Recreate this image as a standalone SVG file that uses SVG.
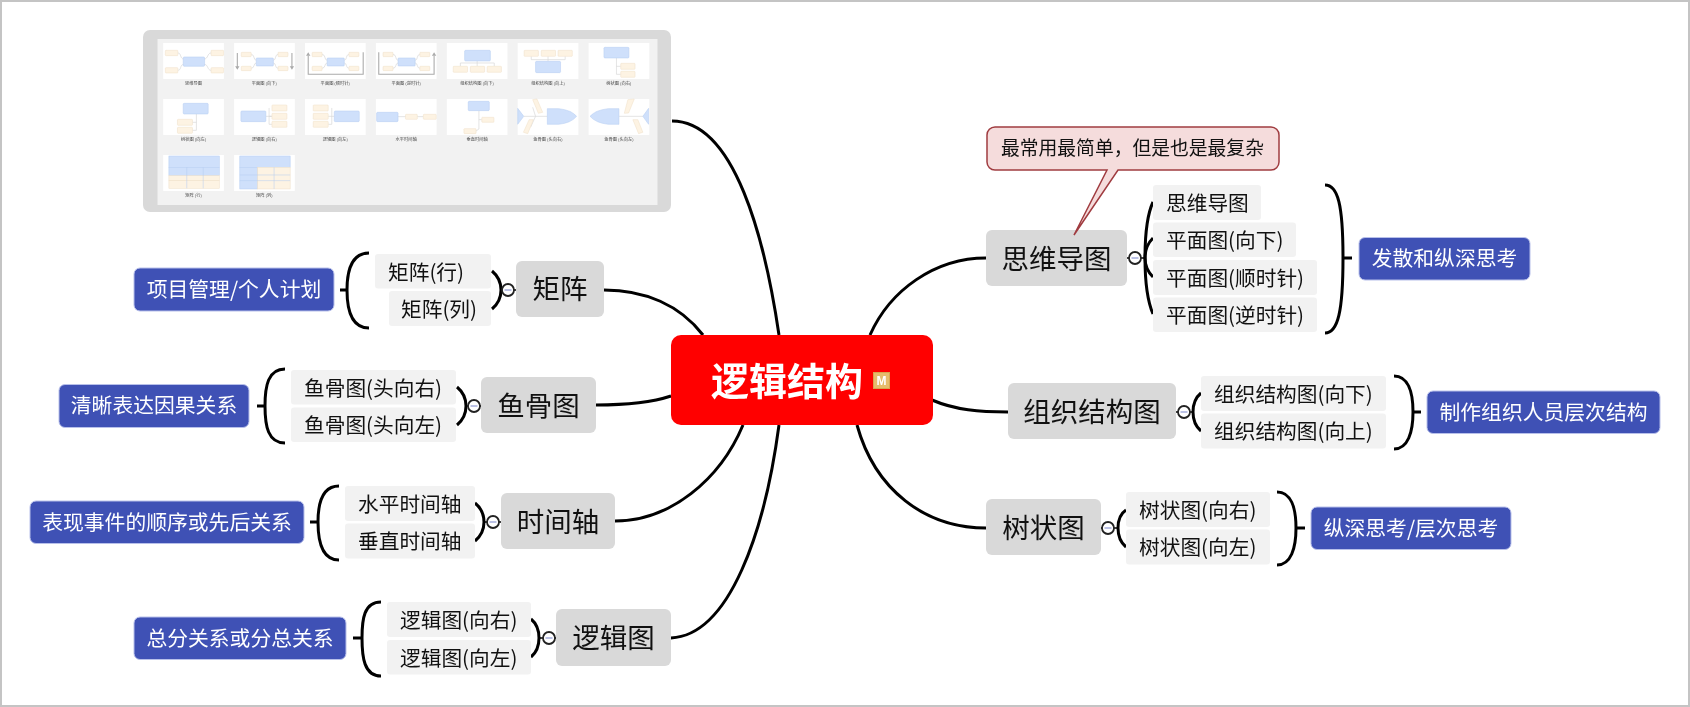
<svg xmlns="http://www.w3.org/2000/svg" xmlns:xlink="http://www.w3.org/1999/xlink" width="1690" height="707" viewBox="0 0 1690 707">
<style>
text{font-family:"Noto Sans CJK SC","Liberation Sans",sans-serif}
.m rect{fill:#d9d9d9}
.m text{font-size:27.500px;fill:#111;text-anchor:middle}
.s rect{fill:#f2f2f2}
.s text{font-size:20.700px;fill:#111}
.n rect{fill:#3f51b5;stroke:#b8c0ea;stroke-width:1}
.n text{font-size:20.800px;fill:#fff;text-anchor:middle}
.c{fill:none;stroke:#000;stroke-width:3;stroke-linecap:butt}
.b{fill:none;stroke:#000;stroke-width:3}
.t{fill:#fff;stroke:#222;stroke-width:1.8}
.d{stroke:#a4acdc;stroke-width:1.5}
.stub{stroke:#000;stroke-width:1.5}
.bl{fill:#cfe0fb;stroke:#b5cdf2;stroke-width:1.5}
.cr{fill:#fdf3e3;stroke:#efdfc8;stroke-width:1.5}
.ln{fill:none;stroke:#d8d8d8;stroke-width:2}
.ar{fill:none;stroke:#aaa;stroke-width:3}
.af{fill:#aaa}
.tile{fill:#fff}
.tl{font-size:12px;fill:#444;text-anchor:middle}
</style>
<defs>
<filter id="soft" x="-2%" y="-2%" width="104%" height="104%"><feGaussianBlur stdDeviation="0.35"/></filter>
<g id="rect4"><rect class="tile" width="170" height="108"/></g>
</defs>
<rect x="1" y="1" width="1688" height="705" fill="#fff" stroke="#c4c4c4" stroke-width="2"/>

<g id="connectors">
<path class="c" d="M672,121C735,121 765,240 779,335"/>
<path class="c" d="M604,290C645,290 680,305 703,335"/>
<path class="c" d="M596,405C625,405 650,403 671,396"/>
<path class="c" d="M615,521C670,521 720,480 743,425"/>
<path class="c" d="M671,638C730,635 765,530 779,425"/>
<path class="c" d="M870,335C890,290 935,258 986,258"/>
<path class="c" d="M932,400C955,410 980,412 1008,412"/>
<path class="c" d="M857,425C875,490 925,528 986,528"/>
<!-- matrix -->
<path class="b" d="M369,253C352,253 347,270 347,290C347,310 352,328 369,328M340,290H347"/>
<path class="b" d="M492,271C498,276 501,282 501,290C501,298 498,304 492,309"/>
<!-- fishbone -->
<path class="b" d="M285,369C268,369 265,386 265,406C265,426 268,443 285,443M257,406H265"/>
<path class="b" d="M457,387C463,392 466,398 466,406C466,414 463,420 457,425"/>
<!-- timeline -->
<path class="b" d="M339,486C322,486 318,503 318,522C318,541 322,560 339,560M310,522H318"/>
<path class="b" d="M475,503C481,508 484,514 484,522C484,530 481,536 475,541"/>
<!-- logic -->
<path class="b" d="M381,602C364,602 362,619 362,638C362,657 364,676 381,676M353,638H362"/>
<path class="b" d="M531,619C537,624 539,630 539,638C539,646 537,652 531,657"/>
<!-- mind -->
<path class="b" d="M1153,202C1147,215 1145,235 1145,258C1145,281 1147,300 1153,314"/>
<path class="b" d="M1153,238C1148,243 1145,250 1145,258C1145,266 1148,272 1153,277"/>
<path class="b" d="M1325,185C1338,185 1343,205 1343,258C1343,311 1338,333 1325,333M1343,258H1352"/>
<!-- org -->
<path class="b" d="M1201,393C1195,398 1193,404 1193,412C1193,420 1195,426 1201,431"/>
<path class="b" d="M1394,376C1408,376 1413,392 1413,412C1413,432 1408,449 1394,449M1413,412H1421"/>
<!-- tree -->
<path class="b" d="M1126,510C1120,514 1118,520 1118,528C1118,536 1120,542 1126,547"/>
<path class="b" d="M1277,492C1291,492 1296,508 1296,528C1296,548 1291,565 1277,565M1296,528H1305"/>
</g>

<g id="image-panel">
<rect x="143" y="30" width="528" height="182" rx="7" fill="#d9d9d9"/>
<rect x="157.500" y="39" width="500" height="166" fill="#f2f2f2"/>
<g filter="url(#soft)">
<g transform="translate(163.200 43) scale(.357 .333)"><use href="#rect4"/><path class="ln" d="M41,30C52,30 46,48 58,48M134,30C123,30 127,48 114,48M41,82C52,82 46,64 58,64M134,82C123,82 127,64 114,64"/><rect class="bl" x="56" y="42" width="60" height="28" rx="3"/><rect class="cr" x="6" y="22" width="35" height="16" rx="2"/><rect class="cr" x="134" y="22" width="35" height="16" rx="2"/><rect class="cr" x="6" y="74" width="35" height="16" rx="2"/><rect class="cr" x="134" y="74" width="35" height="16" rx="2"/><text class="tl" x="85" y="126">思维导图</text></g>
<g transform="translate(234.100 43) scale(.357 .333)"><use href="#rect4"/><path class="ln" d="M48,34C58,34 54,52 62,52M123,34C114,34 118,52 110,52M48,76C58,76 54,60 62,60M123,76C114,76 118,60 110,60"/><rect class="bl" x="62" y="45" width="48" height="24" rx="2"/><rect class="cr" x="20" y="28" width="28" height="13" rx="2"/><rect class="cr" x="123" y="28" width="28" height="13" rx="2"/><rect class="cr" x="20" y="70" width="28" height="13" rx="2"/><rect class="cr" x="123" y="70" width="28" height="13" rx="2"/><path class="ar" d="M9,30V72M162,30V72"/><path class="af" d="M3,70H15L9,80ZM156,70H168L162,80Z"/><text class="tl" x="85" y="126">平面图 (向下)</text></g>
<g transform="translate(305 43) scale(.357 .333)"><use href="#rect4"/><path class="ln" d="M48,34C58,34 54,52 62,52M123,34C114,34 118,52 110,52M48,76C58,76 54,60 62,60M123,76C114,76 118,60 110,60"/><rect class="bl" x="62" y="45" width="48" height="24" rx="2"/><rect class="cr" x="20" y="28" width="28" height="13" rx="2"/><rect class="cr" x="123" y="28" width="28" height="13" rx="2"/><rect class="cr" x="20" y="70" width="28" height="13" rx="2"/><rect class="cr" x="123" y="70" width="28" height="13" rx="2"/><path class="ar" d="M9,38V94H163V28"/><path class="af" d="M3,38H15L9,28Z"/><text class="tl" x="85" y="126">平面图 (顺时针)</text></g>
<g transform="translate(375.900 43) scale(.357 .333)"><use href="#rect4"/><path class="ln" d="M48,34C58,34 54,52 62,52M123,34C114,34 118,52 110,52M48,76C58,76 54,60 62,60M123,76C114,76 118,60 110,60"/><rect class="bl" x="62" y="45" width="48" height="24" rx="2"/><rect class="cr" x="20" y="28" width="28" height="13" rx="2"/><rect class="cr" x="123" y="28" width="28" height="13" rx="2"/><rect class="cr" x="20" y="70" width="28" height="13" rx="2"/><rect class="cr" x="123" y="70" width="28" height="13" rx="2"/><path class="ar" d="M8,28V94H163V38"/><path class="af" d="M157,38H169L163,28Z"/><text class="tl" x="85" y="126">平面图 (逆时针)</text></g>
<g transform="translate(446.800 43) scale(.357 .333)"><use href="#rect4"/><path class="ln" d="M85,54V70M38,70V60H133V70"/><rect class="bl" x="50" y="22" width="72" height="32" rx="3"/><rect class="cr" x="18" y="70" width="40" height="18" rx="2"/><rect class="cr" x="66" y="70" width="40" height="18" rx="2"/><rect class="cr" x="113" y="70" width="40" height="18" rx="2"/><text class="tl" x="85" y="126">组织结构图 (向下)</text></g>
<g transform="translate(517.700 43) scale(.357 .333)"><use href="#rect4"/><path class="ln" d="M85,40V55M38,40V50H133V40"/><rect class="cr" x="18" y="22" width="40" height="18" rx="2"/><rect class="cr" x="66" y="22" width="40" height="18" rx="2"/><rect class="cr" x="113" y="22" width="40" height="18" rx="2"/><rect class="bl" x="50" y="55" width="70" height="34" rx="3"/><text class="tl" x="85" y="126">组织结构图 (向上)</text></g>
<g transform="translate(588.600 43) scale(.357 .333)"><use href="#rect4"/><path class="ln" d="M78,45V94H90M78,70H90"/><rect class="bl" x="43" y="13" width="70" height="32" rx="3"/><rect class="cr" x="90" y="61" width="40" height="18" rx="2"/><rect class="cr" x="90" y="85" width="40" height="18" rx="2"/><text class="tl" x="85" y="126">树状图 (向右)</text></g>

<g transform="translate(163.200 99) scale(.357 .333)"><use href="#rect4"/><path class="ln" d="M93,45V94H82M93,70H82"/><rect class="bl" x="56" y="13" width="70" height="32" rx="3"/><rect class="cr" x="40" y="61" width="42" height="18" rx="2"/><rect class="cr" x="40" y="85" width="42" height="18" rx="2"/><text class="tl" x="85" y="126">树状图 (向左)</text></g>
<g transform="translate(234.100 99) scale(.357 .333)"><use href="#rect4"/><path class="ln" d="M89,52H106M98,27V76H106M98,52H106"/><rect class="bl" x="19" y="36" width="70" height="32" rx="3"/><rect class="cr" x="106" y="18" width="42" height="18" rx="2"/><rect class="cr" x="106" y="43" width="42" height="18" rx="2"/><rect class="cr" x="106" y="67" width="42" height="18" rx="2"/><text class="tl" x="85" y="126">逻辑图 (向右)</text></g>
<g transform="translate(305 99) scale(.357 .333)"><use href="#rect4"/><path class="ln" d="M82,52H65M75,27V76H65"/><rect class="cr" x="23" y="18" width="42" height="18" rx="2"/><rect class="cr" x="23" y="43" width="42" height="18" rx="2"/><rect class="cr" x="23" y="67" width="42" height="18" rx="2"/><rect class="bl" x="82" y="36" width="70" height="32" rx="3"/><text class="tl" x="85" y="126">逻辑图 (向左)</text></g>
<g transform="translate(375.900 99) scale(.357 .333)"><use href="#rect4"/><path class="ln" d="M62,53H133"/><rect class="bl" x="2" y="40" width="60" height="28" rx="3"/><rect class="cr" x="83" y="46" width="33" height="15" rx="2"/><rect class="cr" x="133" y="46" width="36" height="15" rx="2"/><text class="tl" x="85" y="126">水平时间轴</text></g>
<g transform="translate(446.800 99) scale(.357 .333)"><use href="#rect4"/><path class="ln" d="M90,35V90L82,96M90,62H98"/><rect class="bl" x="60" y="7" width="59" height="28" rx="3"/><rect class="cr" x="98" y="55" width="34" height="15" rx="2"/><rect class="cr" x="48" y="89" width="34" height="15" rx="2"/><text class="tl" x="85" y="126">垂直时间轴</text></g>
<g transform="translate(517.700 99) scale(.357 .333)"><use href="#rect4"/><path class="ln" d="M17,52H83M50,52L42,25M50,52L36,85"/><path class="cr" d="M42,2L54,0L70,40L58,43ZM32,62L44,62L28,104L16,100Z"/><path class="bl" d="M83,29H115Q150,33 165,52Q150,72 115,76H83Z"/><path class="bl" d="M0,28L17,52L0,76Z"/><text class="tl" x="85" y="126">鱼骨图 (头向右)</text></g>
<g transform="translate(588.600 99) scale(.357 .333)"><use href="#rect4"/><path class="ln" d="M85,52H152"/><path class="cr" d="M110,2L128,0L112,42L100,43ZM124,62L138,62L152,100L140,104Z"/><path class="bl" d="M85,29H55Q20,33 4,52Q20,72 55,76H85Z"/><path class="bl" d="M168,28L152,52L168,76Z"/><text class="tl" x="85" y="126">鱼骨图 (头向左)</text></g>

<g transform="translate(163.200 155) scale(.357 .333)"><use href="#rect4"/><rect class="bl" x="16" y="3" width="141" height="34"/><rect class="bl" x="16" y="37" width="141" height="25"/><rect class="cr" x="16" y="62" width="141" height="15"/><rect class="cr" x="16" y="77" width="141" height="23"/><path d="M66,37V100M112,37V100" stroke="#b5cdf2" stroke-width="1.5"/><text class="tl" x="85" y="126">矩阵 (行)</text></g>
<g transform="translate(234.100 155) scale(.357 .333)"><use href="#rect4"/><rect class="bl" x="16" y="3" width="141" height="34"/><rect class="bl" x="16" y="37" width="50" height="65"/><rect class="cr" x="66" y="37" width="91" height="65"/><path d="M16,60H157M16,77H157M112,37V102" stroke="#b5cdf2" stroke-width="1.5"/><text class="tl" x="85" y="126">矩阵 (列)</text></g>
</g>
</g>

<g id="center">
<rect x="671" y="335" width="262" height="90" rx="10" fill="#f00"/>
<text x="787" y="395" font-size="38" font-weight="700" fill="#fff" text-anchor="middle">逻辑结构</text>
<rect x="873.500" y="372.500" width="16" height="16" fill="#e6bc6c" stroke="#d8a550"/>
<text x="881.500" y="385" font-size="12" font-weight="700" fill="#fff" text-anchor="middle" style="font-family:'Liberation Sans',sans-serif">M</text>
</g>

<g id="matrix"><g class="m"><rect x="516" y="261" width="88" height="56" rx="6"/><text x="560" y="299">矩阵</text></g></g>
<g id="matrix-toggle"><line class="stub" x1="501" y1="290" x2="516" y2="290"/><circle class="t" cx="508" cy="290" r="6"/><line class="d" x1="504.500" y1="290" x2="511.500" y2="290"/></g>
<g id="matrix-rows" class="s"><rect x="375" y="254" width="116" height="34.500" rx="3"/><text x="388" y="280">矩阵(行)</text></g>
<g id="matrix-cols" class="s"><rect x="389" y="291" width="102" height="35" rx="3"/><text x="401" y="317">矩阵(列)</text></g>
<g id="matrix-note" class="n"><rect x="134" y="268" width="200" height="43" rx="6"/><text x="234" y="297">项目管理/个人计划</text></g>

<g id="fishbone"><g class="m"><rect x="481" y="377" width="115" height="56" rx="6"/><text x="538.500" y="416">鱼骨图</text></g></g>
<g id="fishbone-toggle"><line class="stub" x1="466" y1="406" x2="481" y2="406"/><circle class="t" cx="474" cy="406" r="6"/><line class="d" x1="470.500" y1="406" x2="477.500" y2="406"/></g>
<g id="fishbone-right" class="s"><rect x="291" y="370" width="165" height="34.500" rx="3"/><text x="304" y="396">鱼骨图(头向右)</text></g>
<g id="fishbone-left" class="s"><rect x="291" y="407.500" width="165" height="34.500" rx="3"/><text x="304" y="433">鱼骨图(头向左)</text></g>
<g id="fishbone-note" class="n"><rect x="59" y="384.500" width="190" height="43" rx="6"/><text x="154" y="413">清晰表达因果关系</text></g>

<g id="timeline"><g class="m"><rect x="501" y="493" width="114" height="56" rx="6"/><text x="558" y="532">时间轴</text></g></g>
<g id="timeline-toggle"><line class="stub" x1="484" y1="522" x2="501" y2="522"/><circle class="t" cx="493" cy="522" r="6"/><line class="d" x1="489.500" y1="522" x2="496.500" y2="522"/></g>
<g id="timeline-h" class="s"><rect x="345" y="486" width="130" height="35" rx="3"/><text x="358" y="512">水平时间轴</text></g>
<g id="timeline-v" class="s"><rect x="345" y="523.500" width="130" height="35" rx="3"/><text x="358" y="549">垂直时间轴</text></g>
<g id="timeline-note" class="n"><rect x="30" y="501" width="274" height="42.500" rx="6"/><text x="167" y="530">表现事件的顺序或先后关系</text></g>

<g id="logic"><g class="m"><rect x="556" y="609" width="115" height="57" rx="6"/><text x="613.500" y="648">逻辑图</text></g></g>
<g id="logic-toggle"><line class="stub" x1="539" y1="638" x2="556" y2="638"/><circle class="t" cx="549" cy="638" r="6"/><line class="d" x1="545.500" y1="638" x2="552.500" y2="638"/></g>
<g id="logic-right" class="s"><rect x="387" y="602" width="144" height="35" rx="3"/><text x="400" y="628">逻辑图(向右)</text></g>
<g id="logic-left" class="s"><rect x="387" y="640" width="144" height="34.500" rx="3"/><text x="400" y="666">逻辑图(向左)</text></g>
<g id="logic-note" class="n"><rect x="134" y="617" width="212" height="42.500" rx="6"/><text x="240" y="646">总分关系或分总关系</text></g>

<g id="mindmap"><g class="m"><rect x="986" y="230" width="141" height="56" rx="6"/><text x="1056.500" y="269">思维导图</text></g></g>
<g id="mindmap-toggle"><line class="stub" x1="1127" y1="258" x2="1145" y2="258"/><circle class="t" cx="1135" cy="258" r="6"/><line class="d" x1="1131.500" y1="258" x2="1138.500" y2="258"/></g>
<g id="mind-1" class="s"><rect x="1153" y="185" width="108" height="35" rx="3"/><text x="1166" y="211">思维导图</text></g>
<g id="mind-2" class="s"><rect x="1153" y="222.500" width="143" height="34.500" rx="3"/><text x="1166" y="248">平面图(向下)</text></g>
<g id="mind-3" class="s"><rect x="1153" y="260" width="164" height="35" rx="3"/><text x="1166" y="286">平面图(顺时针)</text></g>
<g id="mind-4" class="s"><rect x="1153" y="297.500" width="164" height="34.500" rx="3"/><text x="1166" y="323">平面图(逆时针)</text></g>
<g id="mind-note" class="n"><rect x="1359" y="237.500" width="171" height="42.500" rx="6"/><text x="1444.500" y="266">发散和纵深思考</text></g>
<g id="callout">
<path d="M995,127H1271A8,8 0 0 1 1279,135V162A8,8 0 0 1 1271,170H1118L1074,235L1107,170H995A8,8 0 0 1 987,162V135A8,8 0 0 1 995,127Z" fill="#f5dcdc" stroke="#a03c40" stroke-width="1.500"/>
<text x="1001" y="155" font-size="18.800" fill="#111">最常用最简单，但是也是最复杂</text>
</g>

<g id="org"><g class="m"><rect x="1008" y="383" width="168" height="56" rx="6"/><text x="1092" y="422">组织结构图</text></g></g>
<g id="org-toggle"><line class="stub" x1="1176" y1="412" x2="1193" y2="412"/><circle class="t" cx="1184" cy="412" r="6"/><line class="d" x1="1180.500" y1="412" x2="1187.500" y2="412"/></g>
<g id="org-down" class="s"><rect x="1201" y="376" width="185" height="35" rx="3"/><text x="1214" y="402">组织结构图(向下)</text></g>
<g id="org-up" class="s"><rect x="1201" y="413.500" width="185" height="35" rx="3"/><text x="1214" y="439">组织结构图(向上)</text></g>
<g id="org-note" class="n"><rect x="1427" y="391" width="233" height="42.500" rx="6"/><text x="1543.500" y="420">制作组织人员层次结构</text></g>

<g id="tree"><g class="m"><rect x="986" y="499" width="115" height="56" rx="6"/><text x="1043.500" y="538">树状图</text></g></g>
<g id="tree-toggle"><line class="stub" x1="1101" y1="528" x2="1118" y2="528"/><circle class="t" cx="1108" cy="528" r="6"/><line class="d" x1="1104.500" y1="528" x2="1111.500" y2="528"/></g>
<g id="tree-right" class="s"><rect x="1126" y="492" width="144" height="35" rx="3"/><text x="1139" y="518">树状图(向右)</text></g>
<g id="tree-left" class="s"><rect x="1126" y="529.500" width="144" height="35" rx="3"/><text x="1139" y="555">树状图(向左)</text></g>
<g id="tree-note" class="n"><rect x="1311" y="507" width="200" height="42.500" rx="6"/><text x="1411" y="536">纵深思考/层次思考</text></g>
</svg>
